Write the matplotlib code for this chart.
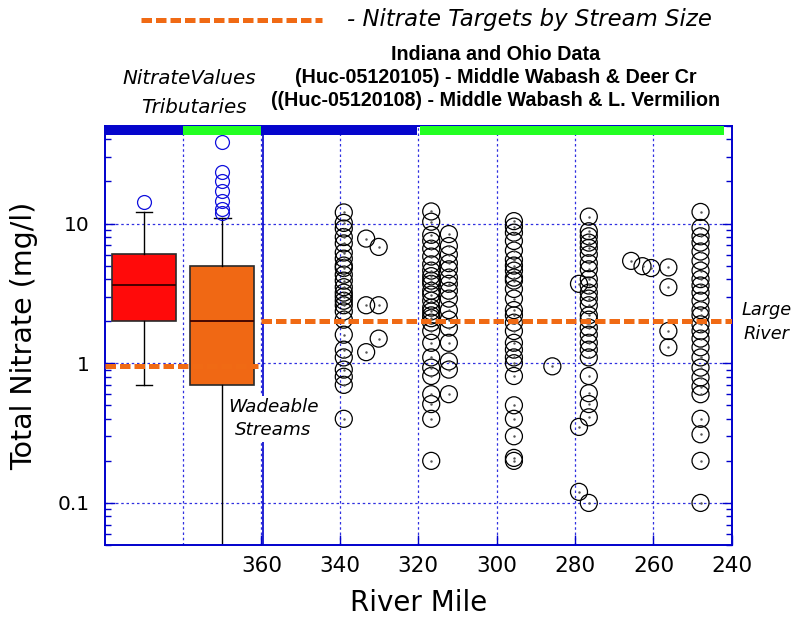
import matplotlib
matplotlib.use("Agg")
import matplotlib.pyplot as plt
import matplotlib.transforms as mtransforms
from matplotlib.patches import Rectangle
from matplotlib.lines import Line2D

# ---- Tributary box-plot summaries (mg/l) ----
box_positions = [390, 370]
box_medians = [3.6, 2.0]
box_q1 = [2.0, 0.70]
box_q3 = [6.1, 5.0]
box_whislo = [0.70, 0.02]
box_whishi = [12.0, 11.0]
fliers_tributary_a = [14.2]
fliers_tributary_b = [11.9, 12.7, 14.4, 17.0, 20.1, 23.3, 38.2]
box_colors = ["#ff0a0a", "#f06814"]

# ---- Mainstem samples by river mile (mg/l) ----
site_miles = [339.0, 333.3, 330.1, 316.7, 312.2, 295.6, 285.8,
              279.0, 276.5, 265.7, 262.8, 260.6, 256.2, 248.0]
rm339 = [12.0, 10.1, 9.2, 8.0, 7.2, 6.2, 5.6, 5.0, 4.8, 4.3, 3.9, 3.5, 3.2,
         3.0, 2.8, 2.6, 2.35, 2.05, 1.6, 1.25, 1.1, 0.9, 0.8, 0.7, 0.4]
rm333 = [7.8, 2.6, 1.2]
rm330 = [6.8, 2.6, 1.5]
rm317 = [12.2, 10.3, 8.3, 7.5, 6.6, 5.8, 5.1, 4.6, 4.2, 3.9, 3.7, 3.3, 3.1,
         2.8, 2.5, 2.35, 2.2, 2.1, 1.95, 1.7, 1.4, 1.1, 0.93, 0.81, 0.6,
         0.51, 0.4, 0.2]
rm312 = [8.4, 6.9, 6.0, 5.2, 4.7, 4.1, 3.7, 3.3, 2.9, 2.4, 2.05, 1.8, 1.4,
         1.03, 0.9, 0.6]
rm296 = [10.4, 9.5, 8.6, 7.5, 6.4, 5.5, 5.0, 4.6, 4.1, 3.9, 3.4, 2.9, 2.4,
         2.2, 1.95, 1.7, 1.4, 1.25, 1.1, 1.0, 0.81, 0.5, 0.4, 0.3, 0.21, 0.2]
rm286 = [0.95]
rm279 = [3.7, 0.35, 0.12]
rm277 = [11.2, 8.8, 8.1, 7.3, 6.7, 6.0, 5.2, 4.7, 4.0, 3.6, 3.2, 2.9, 2.6,
         2.2, 2.05, 1.8, 1.6, 1.4, 1.25, 1.1, 0.81, 0.61, 0.51, 0.41, 0.1]
rm266 = [5.4]
rm263 = [4.95]
rm261 = [4.8]
rm256 = [4.85, 3.5, 1.7, 1.3]
rm248 = [12.1, 9.3, 8.1, 7.3, 6.3, 5.4, 4.6, 4.0, 3.6, 3.2, 2.8, 2.4, 2.2,
         1.9, 1.7, 1.5, 1.3, 1.1, 0.93, 0.79, 0.68, 0.6, 0.4, 0.31, 0.2, 0.1]
site_values = [rm339, rm333, rm330, rm317, rm312, rm296, rm286,
               rm279, rm277, rm266, rm263, rm261, rm256, rm248]

# ---- Nitrate targets ----
target_wadeable = 0.96
target_wadeable_span = (400, 361)
target_large = 2.0
target_large_span = (360, 240)

# ---- Stream-size band along the top ----
band_starts = [400, 380, 360, 319.6]
band_ends = [380, 360, 320.2, 242]
band_colors = ["#0505cc", "#22ff22", "#0505cc", "#22ff22"]

x_ticks = [360, 340, 320, 300, 280, 260, 240]
x_grid = [380, 360, 340, 320, 300, 280, 260]
y_ticks = [0.1, 1, 10]
y_tick_labels = ["0.1", "1", "10"]

axis_blue = "#0000cc"
grid_blue = "#3030e0"
target_orange = "#f06a14"

fig = plt.figure(figsize=(7.99, 6.2), dpi=100)
ax = fig.add_axes([0.131, 0.121, 0.785, 0.676])
ax.set_yscale("log")
ax.set_xlim(400, 240)
ax.set_ylim(0.05, 50)

# grid
for gx in x_grid:
    ax.axvline(gx, color=grid_blue, lw=0.9, ls=(0, (2, 2.2)), zorder=0.5)
for gy in y_ticks:
    ax.axhline(gy, color=grid_blue, lw=0.9, ls=(0, (2, 2.2)), zorder=0.5)

# divider between tributaries and mainstem
ax.axvline(359.5, color=axis_blue, lw=1.2, zorder=0.6)

# tributary box plots
stats = []
for i, fl in enumerate([fliers_tributary_a, fliers_tributary_b]):
    stats.append(dict(med=box_medians[i], q1=box_q1[i], q3=box_q3[i],
                      whislo=box_whislo[i], whishi=box_whishi[i], fliers=fl))
bp = ax.bxp(stats, positions=box_positions, widths=16.4, capwidths=4.2,
            patch_artist=True, manage_ticks=False,
            boxprops=dict(edgecolor="#2a2a2a", linewidth=1.2),
            medianprops=dict(color="#3a0000", linewidth=1.3),
            whiskerprops=dict(color="black", linewidth=1.0),
            capprops=dict(color="black", linewidth=1.0),
            flierprops=dict(marker="o", markersize=10, markerfacecolor="none",
                            markeredgecolor="#1010dd", markeredgewidth=0.9))
for patch, c in zip(bp["boxes"], box_colors):
    patch.set_facecolor(c)
    patch.set_zorder(2)
for key in ("medians", "whiskers", "caps", "fliers"):
    for art in bp[key]:
        art.set_zorder(2.1)

# mainstem sample points
for mile, vals in zip(site_miles, site_values):
    xs = [mile] * len(vals)
    ax.scatter(xs, vals, s=150, facecolors="none", edgecolors="black",
               linewidths=0.9, zorder=3)
    ax.scatter(xs, vals, s=0.6, color="#555555", zorder=3.1)

# target lines
ax.plot(target_wadeable_span, [target_wadeable] * 2, color=target_orange,
        lw=3.6, dashes=(2.1, 0.8), solid_capstyle="butt", zorder=4)
ax.plot(target_large_span, [target_large] * 2, color=target_orange,
        lw=3.6, dashes=(2.1, 0.8), solid_capstyle="butt", zorder=4)

# top stream-size band
blend = mtransforms.blended_transform_factory(ax.transData, ax.transAxes)
for x0, x1, c in zip(band_starts, band_ends, band_colors):
    ax.add_patch(Rectangle((x0, 0.9785), x1 - x0, 0.0215, transform=blend,
                           facecolor=c, edgecolor="none", zorder=5,
                           clip_on=False))

# axes styling
for side in ("left", "right", "bottom", "top"):
    ax.spines[side].set_color(axis_blue)
    ax.spines[side].set_linewidth(1.4)
ax.set_xticks(x_ticks)
ax.set_xticklabels([str(t) for t in x_ticks])
ax.set_yticks(y_ticks)
ax.set_yticklabels(y_tick_labels)
ax.tick_params(axis="both", which="major", direction="in", color=axis_blue,
               labelcolor="black", length=7, width=1.0)
ax.tick_params(axis="y", which="major", labelsize=14.5, pad=11)
ax.tick_params(axis="x", which="major", labelsize=15.5, pad=8)
ax.tick_params(axis="y", which="both", right=True)
ax.tick_params(axis="y", which="minor", direction="in", color=axis_blue,
               length=4, width=1.0)
ax.tick_params(axis="x", which="minor", bottom=False, top=False)
ax.set_xlabel("River Mile", fontsize=20, labelpad=9)
ax.set_ylabel("Total Nitrate (mg/l)", fontsize=20.5, labelpad=14)

# in-plot labels
ax.text(357.0, 0.40, "Wadeable\nStreams", fontsize=13.2, style="italic",
        ha="center", va="center", linespacing=1.35, zorder=6,
        bbox=dict(facecolor="white", edgecolor="none", pad=2))
fig.text(0.959, 0.481, "Large\nRiver", fontsize=12.8, style="italic",
         ha="center", va="center", linespacing=1.4)

# headings
fig.text(0.2373, 0.873, "NitrateValues", fontsize=14.3, style="italic",
         ha="center", va="center")
fig.text(0.2423, 0.8274, "Tributaries", fontsize=14.3, style="italic",
         ha="center", va="center")
title_lines = ["Indiana and Ohio Data",
               "(Huc-05120105) - Middle Wabash & Deer Cr",
               "((Huc-05120108) - Middle Wabash & L. Vermilion"]
for line, yy in zip(title_lines, [0.9129, 0.8742, 0.8371]):
    fig.text(0.6205, yy, line, fontsize=14.2, fontweight="bold",
             family="Liberation Sans", ha="center", va="center")

# key for the target lines
fig.add_artist(Line2D([0.1765, 0.4035], [0.968, 0.968], color=target_orange,
                      lw=3.6, dashes=(2.1, 0.8), solid_capstyle="butt",
                      transform=fig.transFigure))
fig.text(0.434, 0.968, "- Nitrate Targets by Stream Size", fontsize=16.4,
         style="italic", ha="left", va="center")

fig.savefig("out.png", dpi=100)
